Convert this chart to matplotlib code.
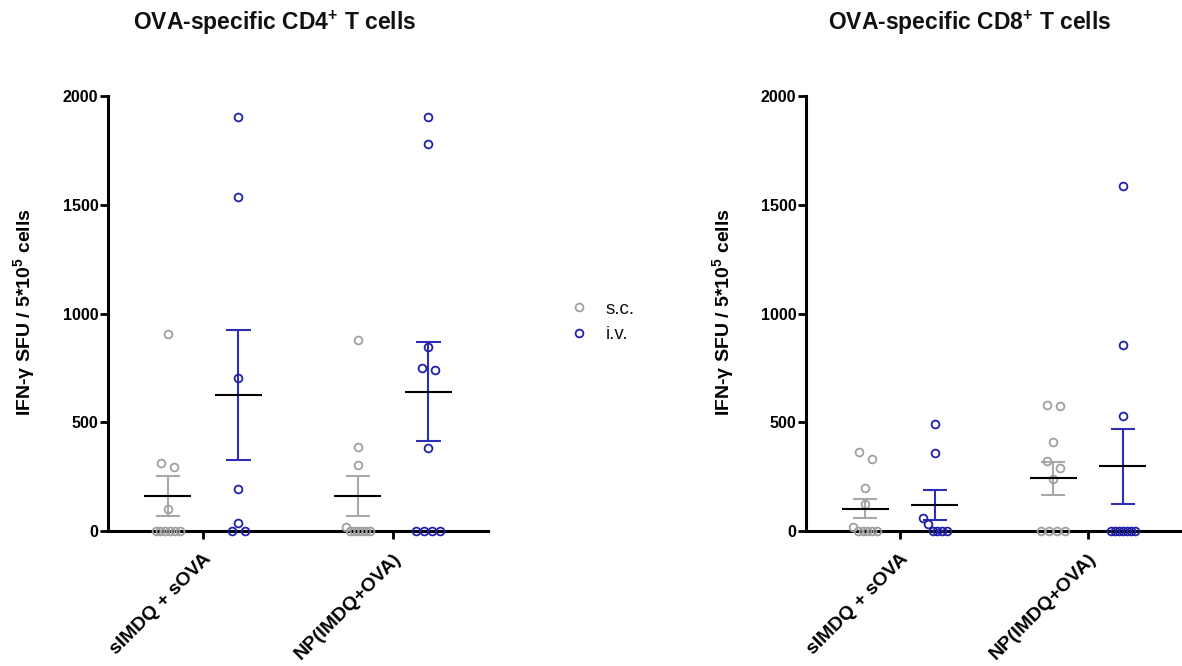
import matplotlib
matplotlib.use("Agg")
import matplotlib.pyplot as plt
from matplotlib.lines import Line2D
import numpy as np

plt.rcParams["font.family"] = ["Liberation Sans", "DejaVu Sans"]
plt.rcParams["mathtext.default"] = "regular"

# groups on the x axis and the two routes
groups = ["sIMDQ + sOVA", "NP(IMDQ+OVA)"]
routes = ["s.c.", "i.v."]

# IFN-gamma SFU / 5*10^5 cells
cd4_sc_free = [906, 313, 294, 101, 0, 0, 0, 0, 0, 0]
cd4_iv_free = [1904, 1536, 704, 193, 37, 0, 0]
cd4_sc_np = [879, 386, 304, 20, 0, 0, 0, 0, 0, 0]
cd4_iv_np = [1904, 1780, 848, 748, 740, 380, 0, 0, 0, 0]

cd8_sc_free = [363, 331, 197, 123, 20, 0, 0, 0, 0, 0]
cd8_iv_free = [493, 359, 59, 31, 0, 0, 0, 0]
cd8_sc_np = [579, 574, 411, 320, 290, 240, 0, 0, 0, 0]
cd8_iv_np = [1584, 855, 528, 0, 0, 0, 0, 0, 0, 0]

yticks = [0, 500, 1000, 1500, 2000]

MARKER_COLORS = ["#a0a0a0", "#2020a8"]
BAR_COLORS = ["#a8a8a8", "#2e2eb4"]
PX_X = 188.0          # pixels per x unit
PX_Y = 435.0 / 2000   # pixels per y unit
LW = 1.5


def swarmOffsets(values):
    # spread points whose markers would overlap, like a column scatter
    order = sorted(range(len(values)), key=lambda i: -values[i])
    offs = [0.0] * len(values)
    clusters = []
    for i in order:
        if clusters and (values[clusters[-1][-1]] - values[i]) * PX_Y < 7.5:
            clusters[-1].append(i)
        else:
            clusters.append([i])
    for cl in clusters:
        n = len(cl)
        if n == 1:
            continue
        step = min(13.0, 24.0 / (n - 1))
        for k, i in enumerate(cl):
            offs[i] = (k - (n - 1) / 2.0) * step / PX_X
    return np.array(offs)


def drawPanel(ax, data):
    for gi, pair in enumerate(data):
        for ri, vals in enumerate(pair):
            xc = gi + (2 * ri - 1) * 0.186
            vals = np.array(vals, dtype=float)
            xs = xc + swarmOffsets(list(vals))
            ax.plot(xs, vals, "o", ls="none", mfc="none", mec=MARKER_COLORS[ri],
                    ms=5.6, mew=1.3, clip_on=False, zorder=4)
            m = vals.mean()
            sem = vals.std(ddof=1) / np.sqrt(len(vals))
            ax.vlines(xc, m - sem, m + sem, color=BAR_COLORS[ri], lw=LW, zorder=3)
            ax.hlines([m - sem, m + sem], xc - 0.064, xc + 0.064,
                      color=BAR_COLORS[ri], lw=LW, zorder=3)
            ax.hlines(m, xc - 0.125, xc + 0.125, color="black", lw=LW, zorder=5)

    ax.set_xlim(-0.5, 1.5)
    ax.set_ylim(0, 2000)
    ax.set_yticks(yticks)
    ax.set_yticklabels([str(t) for t in yticks], fontsize=11.5, fontweight="bold")
    ax.set_xticks([0, 1])
    ax.set_xticklabels(groups, rotation=45, ha="right", va="top",
                       rotation_mode="anchor", fontsize=14, fontweight="bold")
    ax.tick_params(axis="y", length=6, width=2, pad=1)
    ax.tick_params(axis="x", length=6, width=2, pad=8)
    for s in ["top", "right"]:
        ax.spines[s].set_visible(False)
    for s in ["left", "bottom"]:
        ax.spines[s].set_linewidth(2.2)


fig = plt.figure(figsize=(11.82, 6.66), dpi=100)
W, H = 1182.0, 666.0

ax1 = fig.add_axes([108 / W, 1 - 531 / H, 380 / W, 435 / H])
ax2 = fig.add_axes([806 / W, 1 - 531 / H, 376 / W, 435 / H])

drawPanel(ax1, [(cd4_sc_free, cd4_iv_free), (cd4_sc_np, cd4_iv_np)])
drawPanel(ax2, [(cd8_sc_free, cd8_iv_free), (cd8_sc_np, cd8_iv_np)])

fig.text(275 / W, 1 - 23 / H, "OVA-specific CD4$^{+}$ T cells", ha="center", va="center",
         fontsize=16.5, fontweight="bold", color="#111111")
fig.text(970 / W, 1 - 23 / H, "OVA-specific CD8$^{+}$ T cells", ha="center", va="center",
         fontsize=16.5, fontweight="bold", color="#111111")

ylab = "IFN-γ SFU / 5*10$^{5}$ cells"
fig.text(24 / W, 1 - 312 / H, ylab, rotation=90, ha="center", va="center",
         fontsize=14, fontweight="bold")
fig.text(723 / W, 1 - 312 / H, ylab, rotation=90, ha="center", va="center",
         fontsize=14, fontweight="bold")

handles = [Line2D([], [], ls="none", marker="o", mfc="none", mec=MARKER_COLORS[i],
                  ms=5.6, mew=1.3) for i in range(2)]
fig.legend(handles, routes, loc="center left", bbox_to_anchor=(570 / W, 1 - 322 / H),
           frameon=False, fontsize=13.5, handlelength=1.0, handletextpad=0.9,
           labelspacing=0.45, borderpad=0, borderaxespad=0, labelcolor="#111111")

fig.savefig("out.png", dpi=100)
